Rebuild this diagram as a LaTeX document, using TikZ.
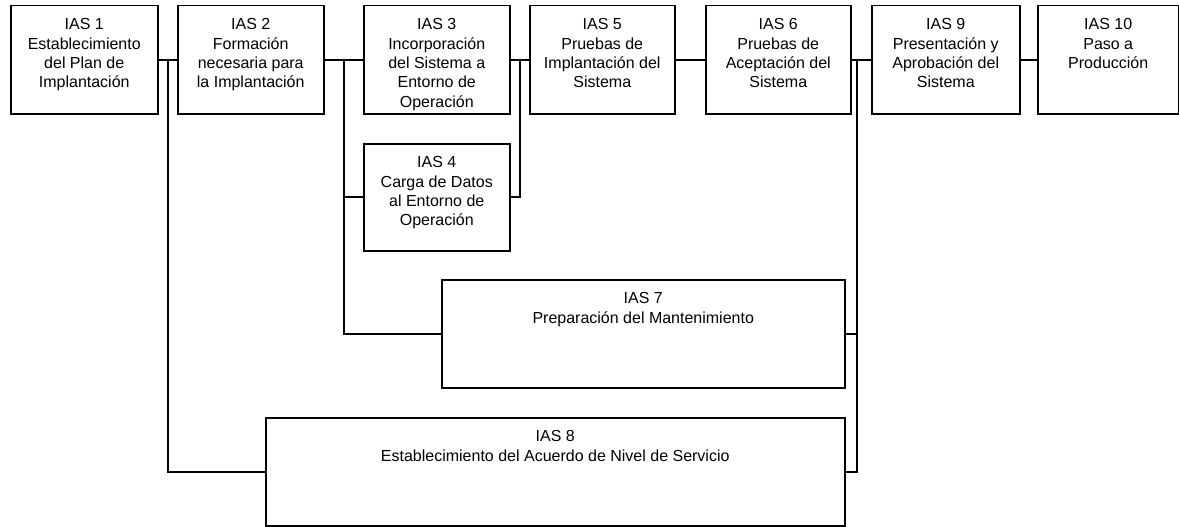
\documentclass[tikz,border=0pt]{standalone}
\usepackage{fontspec}
\setmainfont{Liberation Sans}
\usetikzlibrary{calc}
\newcommand{\boxtxt}[3]{\parbox[c][#2][t]{#1}{\centering\vspace*{13pt}#3}}
\tikzset{
  iasbox/.style={draw=black, line width=1.5pt, rectangle, inner sep=0pt, anchor=north west, font=\fontsize{16}{19.3}\selectfont},
  conn/.style={draw=black, line width=2pt}
}
\begin{document}
\begin{tikzpicture}[x=1pt,y=-1pt]
\useasboundingbox (0,0) rectangle (1179,527);
\node[iasbox] (b1) at (10,5) {\boxtxt{147pt}{108pt}{IAS 1\\Establecimiento\\del Plan de\\Implantación}};
\node[iasbox] (b2) at (177,5) {\boxtxt{146pt}{108pt}{IAS 2\\Formación\\necesaria para\\la Implantación}};
\node[iasbox] (b3) at (363,5) {\boxtxt{146pt}{108pt}{IAS 3\\Incorporación\\del Sistema a\\Entorno de\\Operación}};
\node[iasbox] (b5) at (529,5) {\boxtxt{145pt}{108pt}{IAS 5\\Pruebas de\\Implantación del\\Sistema}};
\node[iasbox] (b6) at (705,5) {\boxtxt{145pt}{108pt}{IAS 6\\Pruebas de\\Aceptación del\\Sistema}};
\node[iasbox] (b9) at (871,5) {\boxtxt{148pt}{108pt}{IAS 9\\Presentación y\\Aprobación del\\Sistema}};
\node[iasbox] (b10) at (1037,5) {\boxtxt{141pt}{108pt}{IAS 10\\Paso a\\Producción}};
\node[iasbox] (b4) at (363,143) {\boxtxt{146pt}{107pt}{IAS 4\\Carga de Datos\\al Entorno de\\Operación}};
\node[iasbox] (b7) at (441,279) {\boxtxt{403pt}{108pt}{IAS 7\\Preparación del Mantenimiento}};
\node[iasbox] (b8) at (265,417) {\boxtxt{579pt}{108pt}{IAS 8\\Establecimiento del Acuerdo de Nivel de Servicio}};
\coordinate (j1) at ($(b1.east)!0.5!(b2.west)$);
\coordinate (j2) at ($(b2.east)!0.5!(b3.west)$);
\coordinate (j3) at ($(b3.east)!0.5!(b5.west)$);
\coordinate (j4) at (857,59);
\draw[conn] (b1.east) -- (b2.west);
\draw[conn] (j1) |- (b8.west);
\draw[conn] (b2.east) -- (b3.west);
\draw[conn] (j2) |- (b7.west);
\draw[conn] (j2 |- b4.west) -- (b4.west);
\draw[conn] (b3.east) -- (b5.west);
\draw[conn] (j3) |- (b4.east);
\draw[conn] (b5.east) -- (b6.west);
\draw[conn] (b6.east) -- (b9.west);
\draw[conn] (j4) |- (b8.east);
\draw[conn] (j4 |- b7.east) -- (b7.east);
\draw[conn] (b9.east) -- (b10.west);
\end{tikzpicture}
\end{document}
